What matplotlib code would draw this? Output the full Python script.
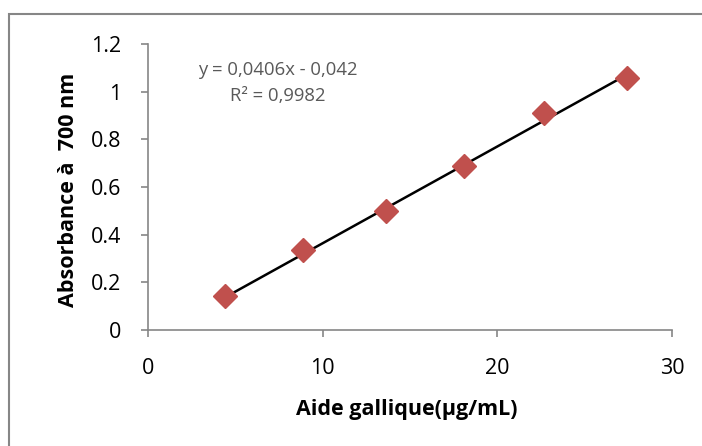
import numpy as np
import matplotlib
matplotlib.use("Agg")
import matplotlib.pyplot as plt
from matplotlib.patches import Rectangle

x_vals = [4.4, 8.9, 13.6, 18.1, 22.7, 27.4]
y_vals = [0.143, 0.336, 0.499, 0.688, 0.912, 1.059]
slope, intercept = 0.0406, -0.042
eq_text = "y = 0,0406x - 0,042"
r2_text = "R² = 0,9982"
x_ticks = [0, 10, 20, 30]
y_ticks = [0, 0.2, 0.4, 0.6, 0.8, 1.0, 1.2]
y_tick_labels = ["0", "0.2", "0.4", "0.6", "0.8", "1", "1.2"]
x_label = "Aide gallique(µg/mL)"
y_label = "Absorbance à  700 nm"

plt.rcParams['font.family'] = ['Open Sans', 'DejaVu Sans']

W, H = 702, 446
fig = plt.figure(figsize=(W/100, H/100), dpi=100)

# outer chart frame (partially visible)
fig.patches.append(Rectangle((9/W, -0.1), 1.2, 1 - 14/H + 0.1, transform=fig.transFigure,
                             fill=False, edgecolor='#868686', linewidth=1.5))

ax = fig.add_axes([148/W, (H-330)/H, (672-148)/W, (330-44)/H])
gray = '#868686'
for s in ['top', 'right']:
    ax.spines[s].set_visible(False)
for s in ['left', 'bottom']:
    ax.spines[s].set_color(gray)
    ax.spines[s].set_linewidth(1.2)

xs = np.array(x_vals)
ax.plot([xs.min(), xs.max()], [slope*xs.min()+intercept, slope*xs.max()+intercept],
        color='black', lw=1.8, zorder=2)
ax.plot(x_vals, y_vals, linestyle='none', marker='D', markersize=12.5,
        color='#C0504D', markeredgecolor='#C0504D', zorder=3)

ax.set_xlim(0, 30)
ax.set_ylim(0, 1.2)
ax.set_xticks(x_ticks)
ax.set_yticks(y_ticks)
ax.set_yticklabels(y_tick_labels)
ax.tick_params(axis='both', colors=gray, labelcolor='black', labelsize=15.5,
               direction='out', length=5, width=1.2)
ax.tick_params(axis='x', pad=15)
ax.tick_params(axis='y', pad=14)

ax.set_xlabel(x_label, fontsize=15.5, fontweight='bold')
ax.set_ylabel(y_label, fontsize=15.5, fontweight='bold')
ax.xaxis.set_label_coords(407/W, (H-410)/H, transform=fig.transFigure)
ax.xaxis.label.set_va('center')
ax.yaxis.set_label_coords(68/W, (H-190)/H, transform=fig.transFigure)
ax.yaxis.label.set_va('center')

ax.text(278/W, (H-70)/H, eq_text, transform=fig.transFigure, ha='center', va='center',
        fontsize=13.3, color='#595959')
ax.text(278/W, (H-96)/H, r2_text, transform=fig.transFigure, ha='center', va='center',
        fontsize=13.3, color='#595959')

fig.savefig("out.png", dpi=100)
